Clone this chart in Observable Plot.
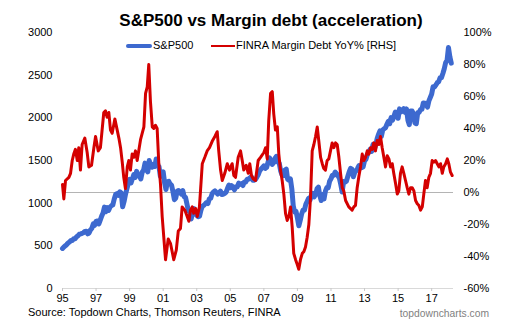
<!DOCTYPE html>
<html>
<head>
<meta charset="utf-8">
<script src="https://cdn.jsdelivr.net/npm/d3@7"></script>
<script src="https://cdn.jsdelivr.net/npm/@observablehq/plot@0.6"></script>
<style>
  html, body { margin: 0; padding: 0; background: #fff; }
  #wrap { position: relative; width: 521px; height: 332px; font-family: "Liberation Sans", Arial, sans-serif; color: #000; overflow: hidden; }
  #wrap svg { position: absolute; left: 0; top: 0; }
  .abs { position: absolute; white-space: nowrap; }
  #title { left: 0; width: 542px; text-align: center; top: 11.5px; font-size: 17px; line-height: 17px; font-weight: bold; }
  .lg { font-size: 11px; line-height: 12px; top: 38.5px; }
  .sw { position: absolute; }
  #src { left: 28px; top: 306px; font-size: 11px; line-height: 13px; }
  #site { right: 32px; top: 306.5px; font-size: 10.3px; line-height: 13px; color: #7f7f7f; }
</style>
</head>
<body>
<div id="wrap">
  <div id="title" class="abs">S&amp;P500 vs Margin debt (acceleration)</div>
  <div class="sw" style="left:126px;top:43.5px;width:26px;height:4px;background:#3d69cf;border-radius:2px;"></div>
  <div class="abs lg" style="left:153px;">S&amp;P500</div>
  <div class="sw" style="left:211px;top:44.5px;width:24px;height:2.5px;background:#d40000;"></div>
  <div class="abs lg" style="left:236px;">FINRA Margin Debt YoY% [RHS]</div>
  <div id="src" class="abs">Source: Topdown Charts, Thomson Reuters, FINRA</div>
  <div id="site" class="abs">topdowncharts.com</div>
</div>
<script>
// S&P500 monthly levels, Jan 1995 .. Mar 2018
const spxStartYear = 1995;
const spx = [
  470, 487, 500, 515, 533, 545, 562, 562, 584, 582, 605, 616,
  636, 640, 646, 654, 669, 671, 640, 652, 687, 705, 757, 741,
  786, 791, 757, 801, 848, 885, 954, 899, 947, 915, 955, 970,
  980, 1049, 1102, 1112, 1091, 1134, 1121, 957, 1017, 1099, 1164, 1229,
  1280, 1238, 1286, 1335, 1302, 1373, 1329, 1320, 1283, 1363, 1389, 1469,
  1394, 1366, 1499, 1452, 1421, 1455, 1431, 1518, 1437, 1429, 1315, 1320,
  1366, 1240, 1160, 1249, 1256, 1224, 1211, 1134, 1041, 1060, 1139, 1148,
  1130, 1107, 1147, 1077, 1067, 990, 912, 916, 815, 886, 936, 880,
  856, 841, 848, 917, 964, 975, 990, 1008, 996, 1051, 1058, 1112,
  1131, 1145, 1126, 1107, 1121, 1141, 1102, 1104, 1115, 1130, 1174, 1212,
  1181, 1204, 1181, 1157, 1192, 1191, 1234, 1220, 1229, 1207, 1249, 1248,
  1280, 1281, 1295, 1311, 1270, 1270, 1277, 1304, 1336, 1378, 1401, 1418,
  1438, 1407, 1421, 1482, 1531, 1503, 1455, 1474, 1527, 1549, 1481, 1468,
  1379, 1331, 1323, 1386, 1400, 1280, 1267, 1283, 1166, 969, 896, 903,
  826, 735, 798, 873, 919, 919, 987, 1021, 1057, 1036, 1096, 1115,
  1074, 1104, 1169, 1187, 1089, 1031, 1102, 1049, 1141, 1183, 1181, 1258,
  1286, 1327, 1326, 1364, 1345, 1321, 1292, 1219, 1131, 1253, 1247, 1258,
  1312, 1366, 1408, 1398, 1310, 1362, 1379, 1407, 1441, 1412, 1416, 1426,
  1498, 1515, 1569, 1598, 1631, 1606, 1686, 1633, 1682, 1757, 1806, 1848,
  1783, 1859, 1872, 1884, 1924, 1960, 1931, 2003, 1972, 2018, 2068, 2059,
  1995, 2105, 2068, 2086, 2107, 2063, 2104, 1972, 1920, 2079, 2080, 2044,
  1940, 1932, 2060, 2065, 2097, 2099, 2174, 2171, 2168, 2126, 2199, 2239,
  2279, 2364, 2363, 2384, 2412, 2423, 2470, 2472, 2519, 2575, 2648, 2674,
  2824, 2714, 2641
];

// FINRA margin debt YoY %, decimal years
const marginYears = [
  1995.00, 1995.08, 1995.18, 1995.38, 1995.48, 1995.58, 1995.67, 1995.77, 1995.88, 1995.97,
  1996.07, 1996.17, 1996.33, 1996.47, 1996.57, 1996.73, 1996.87, 1996.97,
  1997.13, 1997.26, 1997.46, 1997.56, 1997.66, 1997.76, 1997.86, 1997.96,
  1998.12, 1998.26, 1998.36, 1998.46, 1998.56, 1998.65, 1998.75, 1998.86, 1998.95,
  1999.05, 1999.15, 1999.25, 1999.35, 1999.45, 1999.65, 1999.85, 1999.95,
  2000.05, 2000.14, 2000.24, 2000.35, 2000.44, 2000.54, 2000.64, 2000.74, 2000.84, 2000.94,
  2001.14, 2001.30, 2001.44, 2001.63, 2001.78, 2001.90,
  2002.03, 2002.13, 2002.29, 2002.43, 2002.53, 2002.63, 2002.73, 2002.82, 2002.93,
  2003.03, 2003.16, 2003.33, 2003.48, 2003.62, 2003.76, 2003.92,
  2004.08, 2004.22, 2004.31, 2004.42, 2004.52, 2004.67, 2004.82, 2004.95,
  2005.11, 2005.21, 2005.31, 2005.47, 2005.61, 2005.71, 2005.80, 2005.95,
  2006.07, 2006.16, 2006.26, 2006.36, 2006.50, 2006.66, 2006.80,
  2007.00, 2007.10, 2007.20, 2007.29, 2007.40, 2007.50, 2007.59, 2007.69, 2007.80, 2007.89, 2007.99,
  2008.09, 2008.19, 2008.29, 2008.39, 2008.49, 2008.59, 2008.69, 2008.78, 2008.89, 2008.99,
  2009.08, 2009.18, 2009.29, 2009.38, 2009.48, 2009.58, 2009.68, 2009.78, 2009.88, 2009.98,
  2010.08, 2010.18, 2010.27, 2010.38, 2010.48, 2010.57, 2010.67, 2010.77, 2010.87, 2010.97,
  2011.07, 2011.17, 2011.27, 2011.37, 2011.47, 2011.57, 2011.67, 2011.76, 2011.87,
  2012.06, 2012.26, 2012.36, 2012.46, 2012.56, 2012.66, 2012.76, 2012.86, 2012.96,
  2013.06, 2013.16, 2013.25, 2013.36, 2013.46, 2013.55, 2013.65, 2013.75, 2013.85, 2013.95,
  2014.05, 2014.15, 2014.25, 2014.35, 2014.45, 2014.55, 2014.65, 2014.74, 2014.85, 2014.95,
  2015.04, 2015.14, 2015.24, 2015.34, 2015.44, 2015.54, 2015.64, 2015.74, 2015.84, 2015.94,
  2016.04, 2016.14, 2016.23, 2016.34, 2016.44, 2016.53, 2016.63, 2016.73, 2016.83, 2016.93,
  2017.03, 2017.13, 2017.23, 2017.33, 2017.43, 2017.53, 2017.63, 2017.72, 2017.83, 2017.93,
  2018.02, 2018.12, 2018.22
];
const marginYoY = [
  5, -4, 7.5, 9.5, 12, 20, 24, 27, 20, 28,
  14, 30, 34, 25, 16, 17, 28, 35,
  26, 28, 50, 51, 47, 50, 39, 37,
  46, 39, 34, 28, 19, 9.5, 2.5, 16, 20,
  14, 24, 22, 26, 20, 33, 41, 62,
  66, 80, 57, 41, 40, 42, 40, 18, 5, -15,
  -42, -29, -32, -42, -36, -24,
  -22.5, -9, -11, -15, -18, -11, -9, -13, -10,
  -15, -9, 18, 22, 26, 28, 32,
  35, 38, 26, 14, 7.5, 12, 18, 14,
  18, 10.6, 9.5, 22, 26, 20, 14, 17,
  12, 18, 10.6, 8.6, 7.5, 20, 22,
  25, 28, 21, 45, 62, 63, 49, 39, 41, 24, 14,
  7.5, -1, -13, -17.5, -15, -9, -22, -38, -42, -45,
  -48, -42, -38, -37, -34, -28, -20, -3, 26, 30,
  35, 41, 32.5, 22, 18, 15, 14, 20, 21, 26,
  31, 28, 31, 30, 22, 12, 3, 1, -5,
  -9, -11, -9, -8, 3, 10, 16, 24, 20,
  22, 26, 24, 28, 27, 31, 26, 32.5, 30, 35,
  28, 22, 16, 23, 21, 16, 18, 12, 5.4, -1,
  1, 12, 16, 12, 7.5, 3, -1, 3, 3, 1,
  -5, -7, -8, -11, -9, -1, 7.5, 3, 9.5, 12,
  20, 19, 20, 18, 16, 18, 12, 16, 18, 21,
  18, 12.7, 10.6
];

const leftTicks = [0, 500, 1000, 1500, 2000, 2500, 3000];
const rightTicks = [-60, -40, -20, 0, 20, 40, 60, 80, 100];
const xTicks = [1995, 1997, 1999, 2001, 2003, 2005, 2007, 2009, 2011, 2013, 2015, 2017];

// map right-axis % onto left-axis units: -60% -> 0, 100% -> 3000
const toLeft = p => (p + 60) * 3000 / 160;

const spxData = spx.map((v, i) => ({t: spxStartYear + i / 12, v}));
const mData = marginYears.map((t, i) => ({t, v: toLeft(marginYoY[i])}));

const chart = Plot.plot({
  width: 521,
  height: 332,
  marginTop: 32,
  marginBottom: 44,
  marginLeft: 62,
  marginRight: 68,
  style: {fontFamily: '"Liberation Sans", Arial, sans-serif', fontSize: "11px", color: "#000", background: "transparent", overflow: "visible"},
  x: {domain: [1995, 2018.3], axis: null},
  y: {domain: [0, 3000], axis: null},
  marks: [
    Plot.ruleY([0], {stroke: "#d9d9d9", strokeWidth: 1.2}),
    Plot.ruleY([toLeft(0)], {stroke: "#b4b4b4", strokeWidth: 1}),
    Plot.axisX({ticks: xTicks, tickFormat: d => String(d % 100).padStart(2, "0"), tickSize: 3, tickPadding: 3, stroke: "#c8c8c8", fill: "#000", fontSize: 11, label: null}),
    Plot.axisY({anchor: "left", ticks: leftTicks, tickFormat: d => String(d), tickSize: 0, tickPadding: 10, fill: "#000", fontSize: 11, label: null}),
    Plot.axisY({anchor: "right", ticks: rightTicks.map(toLeft), tickFormat: d => Math.round(d * 160 / 3000 - 60) + "%", tickSize: 0, tickPadding: 10, fill: "#000", fontSize: 11, label: null}),
    Plot.line(spxData, {x: "t", y: "v", stroke: "#3d69cf", strokeWidth: 5, curve: "linear"}),
    Plot.line(mData, {x: "t", y: "v", stroke: "#d40000", strokeWidth: 3, curve: "linear"})
  ]
});
document.getElementById("wrap").prepend(chart);
</script>
</body>
</html>
